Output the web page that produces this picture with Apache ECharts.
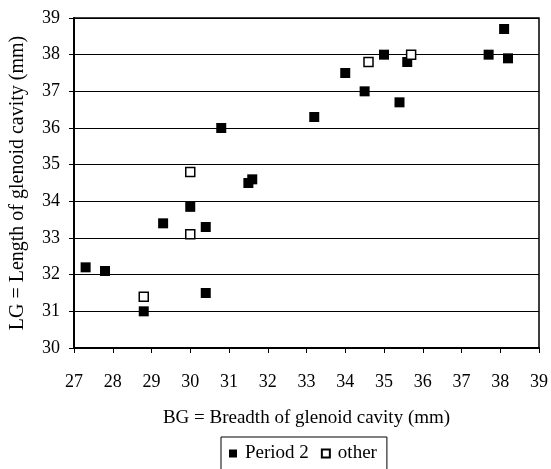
<!DOCTYPE html>
<html>
<head>
<meta charset="utf-8">
<script src="https://cdn.jsdelivr.net/npm/echarts@6/dist/echarts.min.js"></script>
<style>
	html,body{margin:0;padding:0;background:#fff;}
	#chart{width:551px;height:469px;}
</style>
</head>
<body>
<div id="chart"></div>
<script>
	// 数据：Period 2（实心）
	var period2BG = [27.3, 27.8, 28.8, 29.3, 30.0, 30.4, 30.4, 30.8, 31.5, 31.6, 33.2, 34.0, 34.5, 35.0, 35.4, 35.6, 37.7, 38.1, 38.2];
	var period2LG = [32.2, 32.1, 31.0, 33.4, 33.85, 33.3, 31.5, 36.0, 34.5, 34.6, 36.3, 37.5, 37.0, 38.0, 36.7, 37.8, 38.0, 38.7, 37.9];
	// 数据：other（空心）
	var otherBG = [28.8, 30.0, 30.0, 34.6, 35.7];
	var otherLG = [31.4, 34.8, 33.1, 37.8, 38.0];
	var seriesNames = ['Period 2', 'other'];

	function pairs(xs, ys){
		var out = [];
		for(var i = 0; i < xs.length; i++){
			out.push([xs[i], ys[i]]);
		}
		return out;
	}

	var font = 'Liberation Serif';
	var myChart = echarts.init(document.getElementById('chart'));
	var option = {
		animation: false,
		textStyle: {fontFamily: font, color: '#000'},
		grid: {
			left: 71, right: 12, top: 18, bottom: 121,
			show: true, borderColor: '#000', borderWidth: 1.5
		},
		legend: {
			left: 221, top: 437,
			orient: 'horizontal',
			borderColor: '#000', borderWidth: 1,
			padding: [7, 10, 12, 8],
			itemWidth: 8, itemHeight: 8, itemGap: 12,
			textStyle: {fontFamily: font, fontSize: 19, color: '#000', padding: [0, 0, 0, 3]},
			data: [
				{name: seriesNames[0], icon: 'rect'},
				{name: seriesNames[1], icon: 'rect'}
			]
		},
		xAxis: {
			type: 'value', min: 27, max: 39, interval: 1,
			name: 'BG = Breadth of glenoid cavity (mm)',
			nameLocation: 'middle', nameGap: 61,
			nameTextStyle: {fontFamily: font, fontSize: 19, color: '#000'},
			axisLine: {lineStyle: {color: '#000', width: 2}},
			axisTick: {show: true, length: 5, lineStyle: {color: '#000', width: 1}},
			axisLabel: {fontFamily: font, fontSize: 18, color: '#000', margin: 25},
			splitLine: {show: false}
		},
		yAxis: {
			type: 'value', min: 30, max: 39, interval: 1,
			name: 'LG = Length of glenoid cavity (mm)',
			nameLocation: 'middle', nameGap: 46, nameRotate: 90,
			nameTextStyle: {fontFamily: font, fontSize: 20, color: '#000'},
			axisLine: {show: true, lineStyle: {color: '#000', width: 2}},
			axisTick: {show: true, length: 5, lineStyle: {color: '#000', width: 1}},
			axisLabel: {fontFamily: font, fontSize: 18, color: '#000', margin: 14},
			splitLine: {show: true, lineStyle: {color: '#000', width: 1}}
		},
		series: [{
			name: seriesNames[0],
			type: 'scatter',
			symbol: 'rect',
			symbolSize: 10,
			itemStyle: {color: '#000', opacity: 1},
			data: pairs(period2BG, period2LG)
		},{
			name: seriesNames[1],
			type: 'scatter',
			symbol: 'rect',
			symbolSize: 9,
			itemStyle: {color: '#fff', borderColor: '#000', borderWidth: 1.5, opacity: 1},
			data: pairs(otherBG, otherLG)
		}]
	};
	myChart.setOption(option);
</script>
</body>
</html>
